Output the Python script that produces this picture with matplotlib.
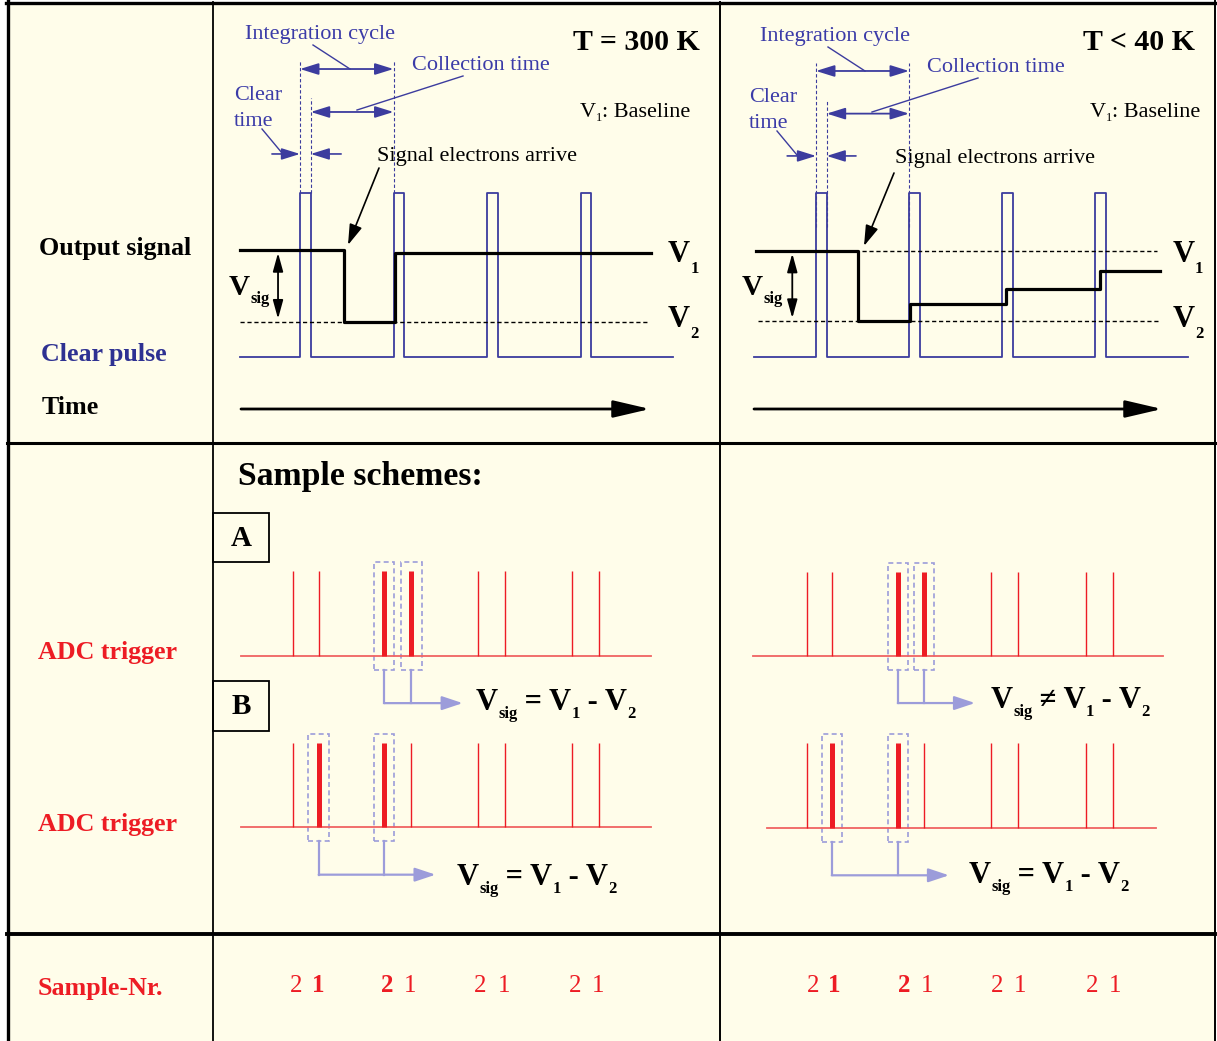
import matplotlib
matplotlib.use("Agg")
import matplotlib.pyplot as plt
from matplotlib.patches import Rectangle
from matplotlib.transforms import blended_transform_factory

# ---- data (time in integration cycles, levels normalised) ----
pulse_start = [0.0, 1.0, 2.0, 3.0]
pulse_width = 0.115

# output signal at 300 K: V1 -> V2 when electrons arrive, back to V1 after clear
out_t_warm = [-0.64, 0.47, 1.02, 3.75]
out_v_warm = [1.0, 0.0, 0.96, 0.96]
# output signal below 40 K: incomplete clear, staircase back towards V1
out_t_cold = [-0.65, 0.45, 1.01, 2.04, 3.05, 3.70]
out_v_cold = [1.0, 0.0, 0.24, 0.46, 0.71, 0.71]

# ADC trigger times (two per cycle) and their sample numbers
trig_warm = [-0.075, 0.20, 0.90, 1.19, 1.90, 2.19, 2.91, 3.20]
trig_cold = [-0.10, 0.17, 0.88, 1.16, 1.88, 2.17, 2.90, 3.19]
sample_nr = [2, 1, 2, 1, 2, 1, 2, 1]
scheme_a = [2, 3]
scheme_b = [1, 2]
bold_nr = [1, 2]

W, H = 1217, 1041
CREAM = "#FFFDEA"
BLUE = "#3C3C9E"
TBLUE = "#3B3BA8"
RED = "#ED1C24"
LRED = "#F06262"
LAV = "#9C9CDA"

plt.rcParams["font.family"] = ["Liberation Serif", "DejaVu Serif"]

fig = plt.figure(figsize=(W / 100, H / 100), dpi=100)
fig.patch.set_facecolor("white")
canvas = fig.add_axes([0, 0, 1, 1])
canvas.set_xlim(0, W)
canvas.set_ylim(H, 0)
canvas.set_axis_off()
renderer = fig.canvas.get_renderer()


def track(px_t0, unit, v0, v1):
    # axes where t=0 -> px_t0, t=1 -> px_t0+unit, level 0 -> row v0, level 1 -> row v1
    ax = fig.add_axes([px_t0 / W, 1 - v0 / H, unit / W, (v0 - v1) / H])
    ax.set_xlim(0, 1)
    ax.set_ylim(0, 1)
    ax.set_axis_off()
    ax.patch.set_visible(False)
    return ax


def rich(x, y, parts, color="black", weight="bold"):
    for s, size, dy in parts:
        t = canvas.text(x, y + dy, s, fontsize=size, fontweight=weight,
                        color=color, ha="left", va="baseline")
        x = t.get_window_extent(renderer=renderer).x1


def arrow(ax, xy, xytext, color, style="-|>,head_length=0.6,head_width=0.22",
          lw=1.3, ms=16):
    ax.annotate("", xy=xy, xytext=xytext, annotation_clip=False,
                arrowprops=dict(arrowstyle=style, color=color, lw=lw,
                                mutation_scale=ms, shrinkA=0, shrinkB=0))


# ---- frame ----
canvas.add_patch(Rectangle((7, 2), 1209, H, fc=CREAM, ec="none"))
canvas.plot([7.5, 7.5], [1, H], color="black", lw=2.4)
canvas.plot([6, 1216], [2.5, 2.5], color="black", lw=2.4)
canvas.plot([1215, 1215], [1, H], color="black", lw=1.4)
canvas.plot([212.5, 212.5], [2, H], color="black", lw=1.3)
canvas.plot([720, 720], [2, H], color="black", lw=1.4)
canvas.plot([7, 1215], [442.5, 442.5], color="black", lw=2.2)
canvas.plot([7, 1215], [933.5, 933.5], color="black", lw=2.8)

# ---- left labels ----
lab = dict(fontsize=18.7, fontweight="bold", va="center", ha="left")
canvas.text(39, 248, "Output signal", color="black", **lab)
canvas.text(41, 354, "Clear pulse", color="#2E3192", **lab)
canvas.text(42, 407, "Time", color="black", **lab)
canvas.text(38, 652, "ADC trigger", color=RED, **lab)
canvas.text(38, 824, "ADC trigger", color=RED, **lab)
canvas.text(38, 989, "Sample-Nr.", color=RED, **lab)

canvas.text(238, 477, "Sample schemes:", fontsize=24.3, fontweight="bold",
            va="center", ha="left")
for (y0, y1, s) in [(513, 562, "A"), (681, 731, "B")]:
    canvas.add_patch(Rectangle((213, y0), 56, y1 - y0, fill=False, ec="black", lw=1.3))
    canvas.text(241, (y0 + y1) / 2 + 1, s, fontsize=21, fontweight="bold",
                ha="center", va="center")

columns = [
    dict(t0=300, unit=93.5, out_v0=321.7, out_v1=250, a_v0=655.7, a_v1=571,
         b_v0=827.3, b_v1=742.7, span=(-0.64, 3.99), out_t=out_t_warm,
         out_v=out_v_warm, v1dash=None, v2dash=(-0.64, 3.72), vsig_t=-0.235,
         dtop=(1.805, 1.58), dbot=1.0, lv=(1.756, 1.494, 1.238),
         ctail=(-0.30, 0.44), trig=trig_warm, a_span=(-0.63, 3.75),
         b_span=(-0.63, 3.75), title="T = 300 K", title_x=700, dx=0, dy=0,
         sig_arrow=((348, 245), (379, 168)), eq_a=(476, 710, " = V"),
         eq_b=(457, 885)),
    dict(t0=816, unit=93.0, out_v0=321, out_v1=250.7, a_v0=656, a_v1=572,
         b_v0=827.7, b_v1=742.7, span=(-0.67, 4.00), out_t=out_t_cold,
         out_v=out_v_cold, v1dash=(0.49, 3.67), v2dash=(-0.62, 3.68),
         vsig_t=-0.255, dtop=(1.79, 1.567), dbot=0.79, lv=(1.744, 1.484, 1.226),
         ctail=(-0.31, 0.43), trig=trig_cold, a_span=(-0.68, 3.73),
         b_span=(-0.53, 3.66), title="T < 40 K", title_x=1195, dx=515, dy=2,
         sig_arrow=((864, 246), (894, 173)), eq_a=(991, 708, " \u2260 V"),
         eq_b=(969, 883)),
]

for c in columns:
    dx, dy = c["dx"], c["dy"]
    # clear pulse
    cp = track(c["t0"], c["unit"], 357, 193)
    xs, ys = [c["span"][0]], [0]
    for s in pulse_start:
        xs += [s, s, s + pulse_width, s + pulse_width]
        ys += [0, 1, 1, 0]
    xs.append(c["span"][1])
    ys.append(0)
    cp.plot(xs, ys, color=BLUE, lw=1.3, clip_on=False)

    # annotation lines tied to pulse edges
    p0, p1 = pulse_start[0], pulse_start[1]
    for t, top in [(p0, c["dtop"][0]), (p0 + pulse_width, c["dtop"][1]), (p1, c["dtop"][0])]:
        cp.plot([t, t], [c["dbot"], top], color=BLUE, lw=0.8, ls=(0, (3, 2)), clip_on=False)
    arrow(cp, (p1, c["lv"][0]), (p0, c["lv"][0]), BLUE,
          "<|-|>,head_length=0.8,head_width=0.25", lw=1.3, ms=14)
    arrow(cp, (p1, c["lv"][1]), (p0 + pulse_width, c["lv"][1]), BLUE,
          "<|-|>,head_length=0.8,head_width=0.25", lw=1.3, ms=14)
    arrow(cp, (p0, c["lv"][2]), (c["ctail"][0], c["lv"][2]), BLUE,
          "-|>,head_length=0.8,head_width=0.25", lw=1.2, ms=14)
    arrow(cp, (p0 + pulse_width, c["lv"][2]), (c["ctail"][1], c["lv"][2]), BLUE,
          "-|>,head_length=0.8,head_width=0.25", lw=1.2, ms=14)

    # output signal
    op = track(c["t0"], c["unit"], c["out_v0"], c["out_v1"])
    op.step(c["out_t"], c["out_v"], where="post", color="black", lw=2.3, clip_on=False)
    op.plot(c["v2dash"], [0, 0], color="black", lw=1.0, ls=(0, (3, 2)), clip_on=False)
    if c["v1dash"]:
        op.plot(c["v1dash"], [1, 1], color="black", lw=1.0, ls=(0, (3, 2)), clip_on=False)
    arrow(op, (c["vsig_t"], 0.04), (c["vsig_t"], 0.96), "black",
          "<|-|>,head_length=0.8,head_width=0.22", lw=1.3, ms=14)

    # texts and leaders in pixel space
    tx = dict(fontsize=16, color=TBLUE, ha="left", va="center")
    canvas.text(245 + dx, 35 + dy, "Integration cycle", **tx)
    canvas.text(412 + dx, 65 + dy, "Collection time", **tx)
    canvas.text(234 + dx, 96 + dy, "Clear", **tx)
    canvas.text(234 + dx, 122 + dy, "time", **tx)
    canvas.plot([313 + dx, 350 + dx], [45 + dy, 69 + dy], color=BLUE, lw=1.0)
    canvas.plot([463 + dx, 357 + dx], [76 + dy, 110 + dy], color=BLUE, lw=1.0)
    canvas.plot([262 + dx, 282 + dx], [129 + dy, 153 + dy], color=BLUE, lw=1.0)
    canvas.text(377 + dx + (3 if dx else 0), 156 + dy, "Signal electrons arrive",
                fontsize=16, color="black", ha="left", va="center")
    arrow(canvas, c["sig_arrow"][0], c["sig_arrow"][1], "black",
          "-|>,head_length=0.7,head_width=0.22", lw=1.2, ms=18)
    canvas.text(c["title_x"], 42, c["title"], fontsize=21.5, fontweight="bold",
                ha="right", va="center")
    rich(580 + (510 if dx else 0), 117, [("V", 16, 0), ("1", 9, 4), (": Baseline", 16, 0)],
         weight="normal")
    rich(668 + (505 if dx else 0), 262, [("V", 22, 0), ("1", 12, 11)])
    rich(668 + (505 if dx else 0), 327, [("V", 22, 0), ("2", 12, 11)])
    rich(229 + (513 if dx else 0), 295, [("V", 21, 0), ("sig", 12, 8)])

    # time arrow
    tx0 = 241 if not dx else 754
    tx1 = 650 if not dx else 1162
    arrow(canvas, (tx1, 409), (tx0, 409), "black",
          "-|>,head_length=1.5,head_width=0.35", lw=2.0, ms=15)

    # ADC trigger schemes
    trig = c["trig"]
    for key, picks, span, eq in [("a", scheme_a, c["a_span"], c["eq_a"]),
                                 ("b", scheme_b, c["b_span"], c["eq_b"])]:
        ax = track(c["t0"], c["unit"], c[key + "_v0"], c[key + "_v1"])
        ax.plot(span, [0, 0], color=LRED, lw=1.3, clip_on=False)
        thin = [t for i, t in enumerate(trig) if i not in picks]
        ax.vlines(thin, 0, 1, color=RED, lw=1.0, clip_on=False)
        ax.vlines([trig[i] for i in picks], 0, 1, color=RED, lw=3.6, clip_on=False)
        for i in picks:
            ax.add_patch(Rectangle((trig[i] - 0.11, -0.165), 0.22, 1.27, fill=False,
                                   ec=LAV, lw=1.2, ls=(0, (3, 2)), clip_on=False))
            ax.plot([trig[i], trig[i]], [-0.165, -0.56], color=LAV, lw=1.6, clip_on=False)
        arrow(ax, (trig[picks[1]] + 0.55, -0.56), (trig[picks[0]], -0.56), LAV,
              "-|>,head_length=0.9,head_width=0.3", lw=1.6, ms=14)
        op_txt = eq[2] if len(eq) > 2 else " = V"
        rich(eq[0], eq[1], [("V", 22, 0), ("sig", 12, 8), (op_txt, 22, 0),
                            ("1", 12, 8), (" - V", 22, 0), ("2", 12, 8)])

    # sample numbers under the triggers
    tr = blended_transform_factory(ax.transData, canvas.transData)
    for i, (t, n) in enumerate(zip(trig, sample_nr)):
        ax.text(t + (0.03 if n == 2 else -0.01) + (0.04 if dx else 0), 986, str(n),
                transform=tr, fontsize=18, color=RED, ha="center", va="center",
                fontweight="bold" if i in bold_nr else "normal")

fig.savefig("out.png", dpi=100, facecolor="white")
